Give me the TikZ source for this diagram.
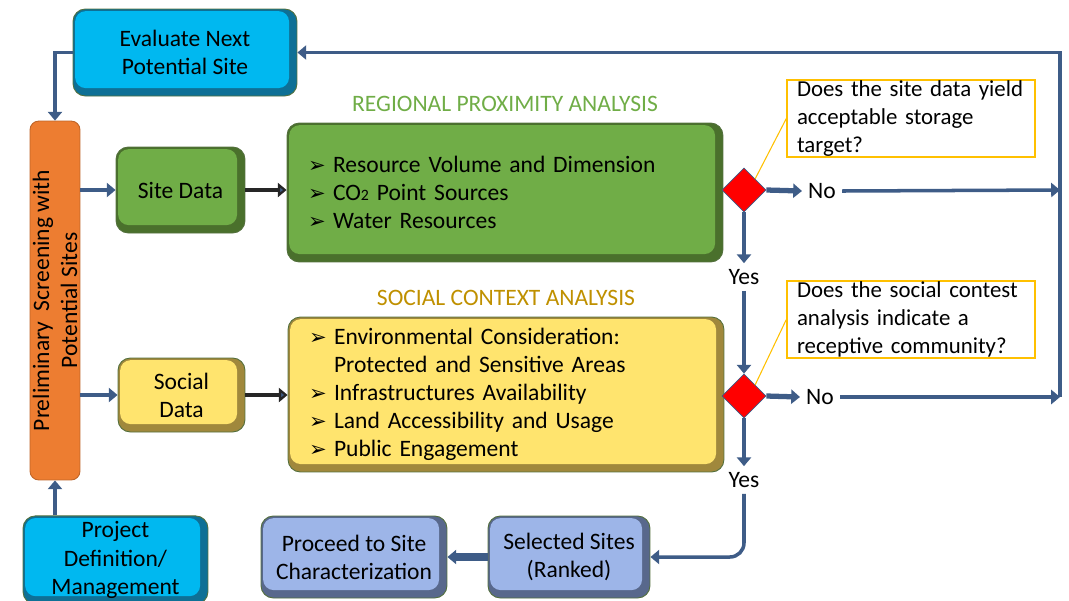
\documentclass[tikz,border=0pt]{standalone}
\usepackage{fontspec}
\setmainfont{Carlito}
\newfontfamily\symf{DejaVu Sans}
\usetikzlibrary{shapes.geometric,arrows.meta,positioning,calc}

\definecolor{flowblue}{RGB}{62,92,135}
\definecolor{boxline}{RGB}{84,112,62}
\definecolor{cyanbox}{RGB}{0,184,240}
\definecolor{cyandark}{RGB}{14,112,150}
\definecolor{greenbox}{RGB}{112,173,71}
\definecolor{greendark}{RGB}{74,112,44}
\definecolor{yellowbox}{RGB}{255,228,110}
\definecolor{yellowdark}{RGB}{160,136,60}
\definecolor{bluebox}{RGB}{157,181,232}
\definecolor{bluedark}{RGB}{88,104,140}
\definecolor{orangebox}{RGB}{237,125,49}
\definecolor{calloutline}{RGB}{255,192,0}
\definecolor{goldtitle}{RGB}{191,144,0}

\newcommand{\bodyfont}{\fontsize{13.4}{16}\selectfont}
\newcommand{\bul}{\makebox[0.5cm][l]{{\symf\fontsize{12}{12}\selectfont ➢}}}
\newcommand{\nobul}{\hspace*{0.5cm}}

\begin{document}
\begin{tikzpicture}[x=0.02cm,y=-0.02cm,
  every node/.style={font=\bodyfont},
  bevel/.style 2 args={rounded corners=7pt, fill=#2, draw=boxline, line width=0.5pt, align=center,
    path picture={\fill[#1, rounded corners=6pt] ([shift={(1.2pt,-1.2pt)}]path picture bounding box.north west)
      rectangle ([shift={(-4.5pt,4.5pt)}]path picture bounding box.south east);}},
  listbox/.style={align=left, inner xsep=0.42cm, text width=7.88cm},
  decision/.style={diamond, fill=red, draw=flowblue, line width=0.4pt, inner sep=0pt, minimum size=0.88cm},
  callout/.style={draw=calloutline, line width=0.8pt, align=left, inner xsep=0.2cm, inner ysep=-2pt,
    text width=4.56cm, minimum height=1.54cm, font=\fontsize{13}{16}\selectfont},
  flow/.style={draw=flowblue, line width=2pt, -{Triangle[length=5pt,width=8pt]}},
  flowb/.style={flow, line width=3pt},
  darrow/.style={draw=black!85, line width=2.5pt, -{Triangle[length=5pt,width=8pt,fill=flowblue]}},
]
  \clip (0,0) rectangle (1069,600);

  % left column
  \node[bevel={cyanbox}{cyandark}, minimum width=4.48cm, minimum height=1.74cm] (eval) at (185,52.5) {Evaluate Next\\Potential Site};
  \node[rounded corners=5pt, fill=orangebox, draw=orangebox!80!black, line width=0.5pt,
        minimum width=1.0cm, minimum height=7.18cm,
        label={[rotate=90, align=center, font=\bodyfont]center:Preliminary~ Screening with\\Potential Sites}] (prelim) at (55,300.5) {};
  \node[bevel={cyanbox}{cyandark}, minimum width=3.7cm, minimum height=1.76cm] (proj) at (115.5,560) {Project\\Definition/\\Management};

  % data boxes
  \node[bevel={greenbox}{greendark}, minimum width=2.58cm, minimum height=1.72cm] (site) at (180.5,190) {Site Data};
  \node[bevel={yellowbox}{yellowdark}, minimum width=2.54cm, minimum height=1.48cm] (social) at (181.5,395) {Social\\Data};

  % analysis boxes with titles
  \node[bevel={greenbox}{greendark}, listbox, minimum height=2.78cm] (rpa) at (505,192.5)
    {\bul Resource Volume and Dimension\\\bul CO{\fontsize{9}{9}\selectfont 2} Point Sources\\\bul Water Resources};
  \node[above=0.1cm of rpa, text=greenbox] (rpatitle) {REGIONAL PROXIMITY ANALYSIS};
  \node[bevel={yellowbox}{yellowdark}, listbox, minimum height=3.1cm] (sca) at (506,394.5)
    {\bul Environmental Consideration:\\\nobul Protected and Sensitive Areas\\\bul Infrastructures Availability\\\bul Land Accessibility and Usage\\\bul Public Engagement};
  \node[above=0.1cm of sca, text=goldtitle] (scatitle) {SOCIAL CONTEXT ANALYSIS};

  % decisions
  \node[decision] (d1) at (744,190) {};
  \node[decision] (d2) at (744,396) {};
  \node (no1) at (822,191) {No};
  \node (no2) at (820,397) {No};
  \node (yes1) at (744,277) {Yes};
  \node (yes2) at (744,480) {Yes};
  \node[callout] (q1) at (911,118.5) {\hbox{Does the site data yield}\\acceptable storage\\target?};
  \node[callout] (q2) at (911,319.5) {\hbox{Does the social contest}\\analysis indicate a\\receptive community?};

  % results
  \node[bevel={bluebox}{bluedark}, minimum width=3.24cm, minimum height=1.64cm] (sel) at (569,557) {Selected Sites\\(Ranked)};
  \node[bevel={bluebox}{bluedark}, minimum width=3.72cm, minimum height=1.64cm] (proc) at (354,557) {Proceed to Site\\Characterization};

  % return loop on the right
  \coordinate (c1) at (1060,190);
  \coordinate (c2) at (1060,397);
  \coordinate (ctop) at (1060,52.5);

  % connectors
  \draw[flow] (c2) -- (ctop) -- (eval.east);
  \draw[flow] (no1.east) -- (c1);
  \draw[flow] (no2.east) -- (c2);
  \draw[flow] (eval.west) -| (prelim.north);
  \draw[flow] (prelim.south |- proj.north) -- (prelim.south);
  \draw[flow] (prelim.east |- site) -- (site.west);
  \draw[flow] (prelim.east |- social) -- (social.west);
  \draw[darrow] (site.east) -- (site.east -| rpa.west);
  \draw[darrow] (social.east) -- (social.east -| sca.west);
  \draw[flowb] (d1.east) -- (no1.west);
  \draw[flowb] (d2.east) -- (no2.west);
  \draw[flow] (d1.south) -- (yes1.north);
  \draw[flow] (yes1.south) -- (d2.north);
  \draw[flow] (d2.south) -- (yes2.north);
  \draw[flow, rounded corners=8pt] (yes2.south) |- (sel.east);
  \draw[flowb, line width=4pt] (sel.west) -- (proc.east);
  \draw[calloutline, line width=0.6pt] (q1.west) -- (d1.north east);
  \draw[calloutline, line width=0.6pt] (q2.west) -- (d2.north east);

\end{tikzpicture}
\end{document}
